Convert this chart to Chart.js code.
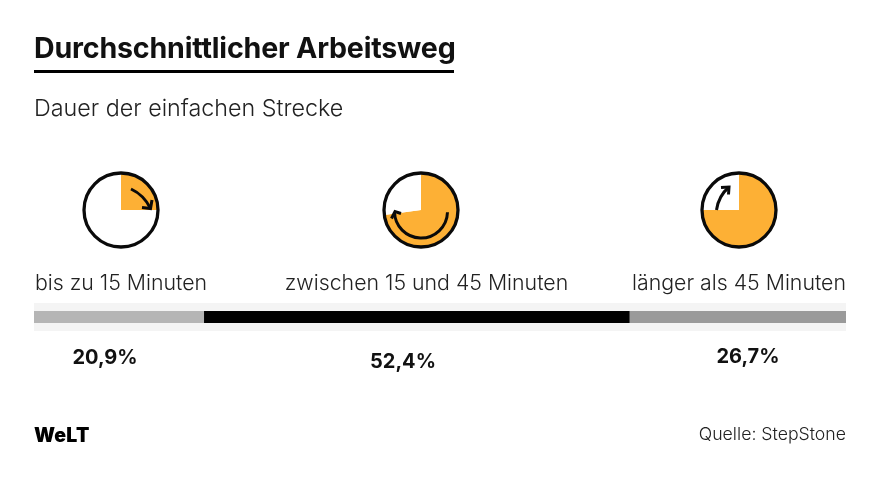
<!DOCTYPE html>
<html lang="de">
<head>
<meta charset="utf-8">
<script src="https://cdn.jsdelivr.net/npm/chart.js@4"></script>
<style>
html,body{margin:0;padding:0;background:#fff;width:880px;height:480px;overflow:hidden;font-family:Inter,Lato,sans-serif;color:#111}
.t{position:absolute;white-space:nowrap;line-height:1}
#title{left:34px;top:33.5px;font-size:28.6px;font-weight:700;letter-spacing:-.2px}
#rule{position:absolute;left:34px;top:70px;width:420px;height:3px;background:#000}
#sub{left:34px;top:96px;font-size:23.3px;font-weight:300;color:#222}
.cat{font-size:21.3px;font-weight:300;top:272px;transform:translateX(-50%);color:#222}
.val{font-size:20px;font-weight:700;transform:translateX(-50%)}
#band{position:absolute;left:34px;top:303px;width:812px;height:28px;background:#f4f4f4}
#logo{left:34px;top:426px;font-size:19.5px;font-weight:900;letter-spacing:.2px;color:#000}
#src{right:34px;top:425px;font-size:17.7px;font-weight:300;color:#222}
canvas{position:absolute}
</style>
</head>
<body>
<div id="band"></div>
<canvas id="bar" width="880" height="480" style="left:0;top:0"></canvas>
<canvas id="p0" width="84" height="84" style="left:79px;top:168px"></canvas>
<canvas id="p1" width="84" height="84" style="left:379px;top:168px"></canvas>
<canvas id="p2" width="84" height="84" style="left:697px;top:168px"></canvas>
<div class="t" id="title">Durchschnittlicher Arbeitsweg</div>
<div id="rule"></div>
<div class="t" id="sub">Dauer der einfachen Strecke</div>
<div class="t cat" id="c0" style="left:121px"></div>
<div class="t cat" id="c1" style="left:426.5px"></div>
<div class="t cat" id="c2" style="left:739px"></div>
<div class="t val" id="v0" style="left:105px;top:347px"></div>
<div class="t val" id="v1" style="left:403px;top:351px"></div>
<div class="t val" id="v2" style="left:748px;top:346px"></div>
<div class="t" id="logo">WeLT</div>
<div class="t" id="src">Quelle: StepStone</div>
<script>
const categories = ["bis zu 15 Minuten", "zwischen 15 und 45 Minuten", "länger als 45 Minuten"];
const shares = [20.9, 52.4, 26.7];
const barColors = ["#b5b5b5", "#000000", "#9a9a9a"];
const clockFilled = [15, 43.7, 45];
const clockEmpty = [45, 16.3, 15];
const clockColors = ["#fdb035", "#ffffff"];

categories.forEach((c, i) => {
  document.getElementById("c" + i).textContent = c;
  document.getElementById("v" + i).textContent = shares[i].toFixed(1).replace(".", ",") + "%";
});

new Chart(document.getElementById("bar"), {
  type: "bar",
  data: {
    labels: ["Arbeitsweg"],
    datasets: categories.map((c, i) => ({
      label: c, data: [shares[i]], backgroundColor: barColors[i],
      barPercentage: 1, categoryPercentage: 1, borderWidth: 0
    }))
  },
  options: {
    indexAxis: "y", responsive: false, animation: false, events: [],
    layout: { padding: { left: 34, right: 34, top: 311, bottom: 157 } },
    plugins: { legend: { display: false }, tooltip: { enabled: false } },
    scales: {
      x: { stacked: true, min: 0, max: 100, display: false },
      y: { stacked: true, display: false }
    }
  }
});

function arrowHead(ctx, tip, a, b) {
  ctx.beginPath();
  ctx.moveTo(a[0], a[1]); ctx.lineTo(tip[0], tip[1]); ctx.lineTo(b[0], b[1]);
  ctx.stroke();
}
const arrowPainters = [
  ctx => {
    ctx.beginPath(); ctx.moveTo(10, -21); ctx.quadraticCurveTo(23, -15, 29.5, -1.5); ctx.stroke();
    arrowHead(ctx, [29.5, -1.5], [31, -10], [21, -2.5]);
  },
  ctx => {
    ctx.beginPath(); ctx.arc(0, 1.5, 26.5, 0.03, Math.PI - 0.02); ctx.stroke();
    arrowHead(ctx, [-26, 1.5], [-29.5, 8.5], [-20, 3.5]);
  },
  ctx => {
    ctx.beginPath(); ctx.moveTo(-22.5, 0); ctx.quadraticCurveTo(-20.5, -14, -10, -23); ctx.stroke();
    arrowHead(ctx, [-10, -23], [-18, -22.5], [-10.5, -15.5]);
  }
];

categories.forEach((c, i) => {
  new Chart(document.getElementById("p" + i), {
    type: "pie",
    data: {
      labels: ["Minuten", "Rest"],
      datasets: [{ data: [clockFilled[i], clockEmpty[i]], backgroundColor: clockColors, borderWidth: 0 }]
    },
    options: {
      responsive: false, animation: false, events: [],
      layout: { padding: 5 },
      plugins: { legend: { display: false }, tooltip: { enabled: false } }
    },
    plugins: [{
      id: "clockFace",
      afterDraw(chart) {
        const arc = chart.getDatasetMeta(0).data[0];
        const ctx = chart.ctx;
        ctx.save();
        ctx.translate(arc.x, arc.y);
        ctx.strokeStyle = "#0a0a0a";
        ctx.lineWidth = 3.3;
        ctx.beginPath(); ctx.arc(0, 0, arc.outerRadius, 0, Math.PI * 2); ctx.stroke();
        ctx.lineWidth = 3; ctx.lineCap = "butt"; ctx.lineJoin = "miter";
        arrowPainters[i](ctx);
        ctx.restore();
      }
    }]
  });
});
</script>
</body>
</html>
